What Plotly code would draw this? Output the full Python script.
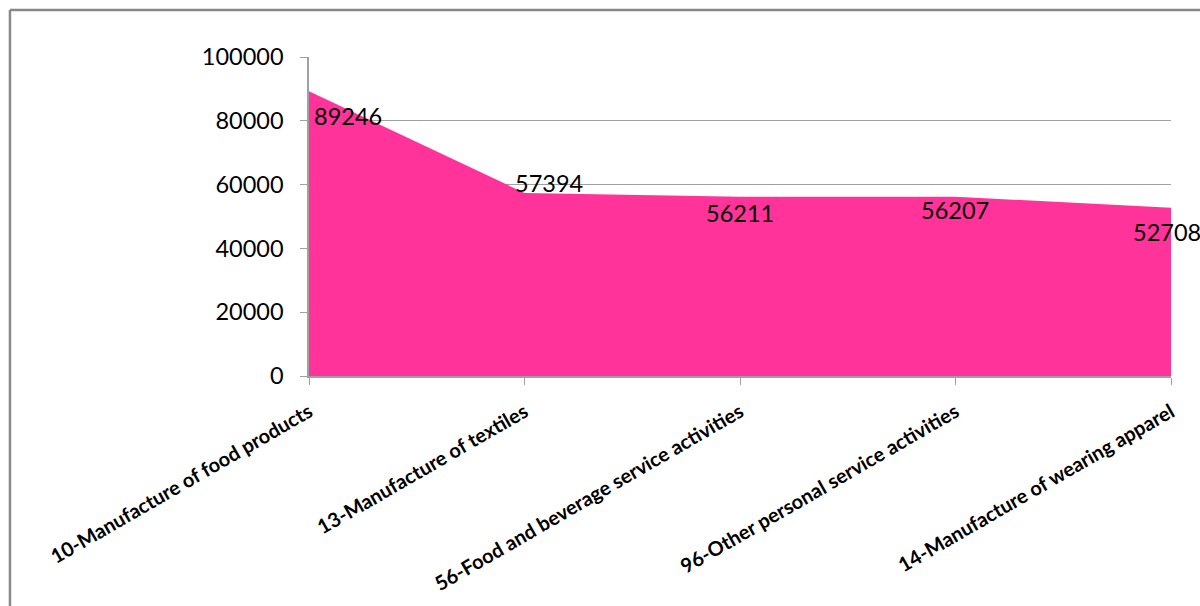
import plotly.graph_objects as go

categories = [
    "10-Manufacture of food products",
    "13-Manufacture of textiles",
    "56-Food and beverage service activities",
    "96-Other personal service activities",
    "14-Manufacture of wearing apparel",
]
values = [89246, 57394, 56211, 56207, 52708]
y_ticks = [0, 20000, 40000, 60000, 80000, 100000]

# label offsets (pixels) relative to each data point
label_dx = [39, 24, 0, -1, -4]
label_dy = [-25, 10, -16, -13, -24]

idx = list(range(len(categories)))

fig = go.Figure()
fig.add_trace(go.Scatter(
    x=idx, y=values, mode="lines", fill="tozeroy",
    fillcolor="#FF3399", line=dict(color="#FF3399", width=0),
    hoverinfo="skip", showlegend=False,
))

for i, v in enumerate(values):
    fig.add_annotation(
        x=idx[i], y=v, text=str(v), showarrow=False,
        xshift=label_dx[i], yshift=label_dy[i],
        font=dict(family="Lato", size=23.5, color="#000000"),
    )

# outer chart border (left/top visible; right/bottom beyond the frame)
fig.add_shape(type="line", xref="paper", yref="paper",
              x0=-0.3469, x1=-0.3469, y0=1.1473, y1=-1.0,
              line=dict(color="#888888", width=2.5))
fig.add_shape(type="line", xref="paper", yref="paper",
              x0=-0.3469, x1=1.1, y0=1.1473, y1=1.1473,
              line=dict(color="#888888", width=2.5))

fig.update_layout(
    width=1200, height=606,
    margin=dict(l=309, r=29, t=57, b=230),
    paper_bgcolor="white", plot_bgcolor="white",
    showlegend=False,
)
fig.update_xaxes(
    range=[0, 4], tickmode="array", tickvals=idx, ticktext=categories,
    tickangle=-30, showgrid=False, showline=True, linecolor="#A0A0A0",
    linewidth=1.5, ticks="outside", ticklen=7, tickcolor="#A0A0A0",
    ticklabelstandoff=8,
    tickfont=dict(family="Lato", size=20, color="#000000", weight="bold"),
    zeroline=False, fixedrange=True,
)
fig.update_yaxes(
    range=[0, 100000], tickmode="array", tickvals=y_ticks,
    ticktext=[str(t) for t in y_ticks],
    showgrid=True, gridcolor="#A0A0A0", gridwidth=1.2,
    showline=True, linecolor="#A0A0A0", linewidth=1.5,
    ticks="outside", ticklen=7, tickcolor="#A0A0A0",
    ticklabelstandoff=12,
    tickfont=dict(family="Lato", size=23.5, color="#000000"),
    zeroline=False, fixedrange=True,
)

fig.write_html(
    "out.html",
    config={"displayModeBar": False},
    post_script="document.body.style.margin='0';document.body.style.overflow='hidden';",
)
